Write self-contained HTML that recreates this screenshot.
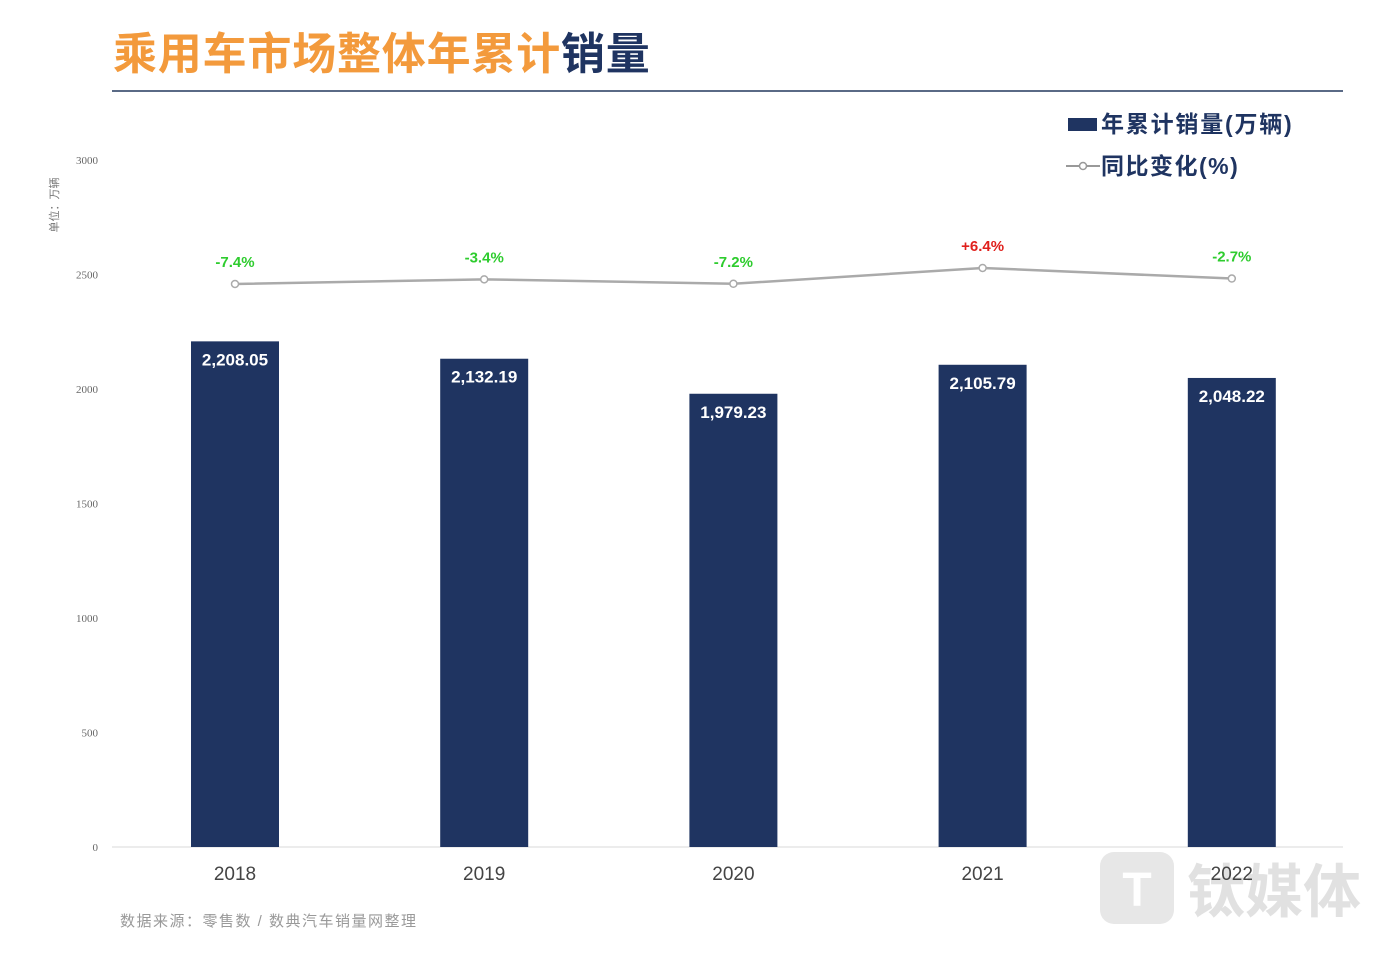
<!DOCTYPE html>
<html><head><meta charset="utf-8"><style>
body{margin:0;background:#fff;width:1399px;height:953px;overflow:hidden;font-family:"Liberation Sans","Noto Sans CJK SC",sans-serif}
svg{display:block}
</style></head><body>
<svg width="1399" height="953" id="c">
<text x="113" y="69" font-size="44" font-weight="bold" letter-spacing="0.8" font-family="Liberation Sans, Noto Sans CJK SC, sans-serif"><tspan fill="#f39a3c">乘用车市场整体年累计</tspan><tspan fill="#1f3461">销量</tspan></text>
<line x1="112" y1="91" x2="1343" y2="91" stroke="#5a6a86" stroke-width="2"/>
<text transform="translate(58,205) rotate(-90)" font-size="11" fill="#777" text-anchor="middle" font-family="Liberation Sans, Noto Sans CJK SC, sans-serif">单位：万辆</text>
<rect x="1068" y="118" width="29" height="13" fill="#1f3461"/>
<text x="1101" y="132" font-size="23" font-weight="bold" letter-spacing="1.8" fill="#1f3461" font-family="Liberation Sans, Noto Sans CJK SC, sans-serif">年累计销量(万辆)</text>
<line x1="1066" y1="166" x2="1100" y2="166" stroke="#999" stroke-width="2"/>
<circle cx="1083" cy="166" r="3.5" fill="#fff" stroke="#999" stroke-width="1.5"/>
<text x="1101" y="174" font-size="23" font-weight="bold" letter-spacing="1.5" fill="#1f3461" font-family="Liberation Sans, Noto Sans CJK SC, sans-serif">同比变化(%)</text>
<line x1="112" y1="847" x2="1343" y2="847" stroke="#e6e6e6" stroke-width="1.5"/>
<text x="120" y="926" font-size="15" letter-spacing="1.5" fill="#999" font-family="Liberation Sans, Noto Sans CJK SC, sans-serif">数据来源：零售数 / 数典汽车销量网整理</text>
<g opacity="0.35">
<rect x="1100" y="852" width="74" height="72" rx="14" fill="#bbb"/>
<text x="1137" y="906" font-size="48" font-weight="bold" fill="#fff" text-anchor="middle" font-family="Liberation Sans, sans-serif">T</text>
<text x="1187" y="912" font-size="58" font-weight="bold" fill="#aaa" font-family="Liberation Sans, Noto Sans CJK SC, sans-serif">钛媒体</text>
</g>
<g id="plot"></g>
</svg>
<script>
const categories=["2018","2019","2020","2021","2022"];
const sales=[2208.05,2132.19,1979.23,2105.79,2048.22];
const salesLabels=["2,208.05","2,132.19","1,979.23","2,105.79","2,048.22"];
const yoy=[-7.4,-3.4,-7.2,6.4,-2.7];
const yoyLabels=["-7.4%","-3.4%","-7.2%","+6.4%","-2.7%"];
const yTicks=[0,500,1000,1500,2000,2500,3000];
const NS="http://www.w3.org/2000/svg";
const g=document.getElementById('plot');
const y=v=>847-v*(687/3000);
const yr=p=>275.4-1.16*p;
const x=i=>235+i*249.2;
function mk(t,a,txt){const e=document.createElementNS(NS,t);for(const k in a)e.setAttribute(k,a[k]);if(txt!=null)e.textContent=txt;g.appendChild(e);return e;}
yTicks.forEach(v=>{
 const e=mk('text',{x:98,y:y(v)+4,'font-size':11,fill:'#666','text-anchor':'end','font-family':'Liberation Serif, serif'},v);
 
 
});
categories.forEach((c,i)=>{
 const b=mk('rect',{x:x(i)-44,y:y(sales[i]),width:88,height:847-y(sales[i]),fill:'#1f3461'});
 
 
 const l=mk('text',{x:x(i),y:y(sales[i])+24,'font-size':17,'font-weight':'bold',fill:'#fff','text-anchor':'middle'},salesLabels[i]);
 
 
 const t=mk('text',{x:x(i),y:880,'font-size':19,fill:'#444','text-anchor':'middle'},c);
 
 
});
const pl=mk('polyline',{points:yoy.map((p,i)=>x(i)+','+yr(p)).join(' '),fill:'none',stroke:'#aaa','stroke-width':2.5});


yoy.forEach((p,i)=>{
 const c=mk('circle',{cx:x(i),cy:yr(p),r:3.5,fill:'#fff',stroke:'#aaa','stroke-width':1.5});
 
 
 const t=mk('text',{x:x(i),y:yr(p)-17,'font-size':15,'font-weight':'bold',fill:p>0?'#e0201c':'#2ecc2e','text-anchor':'middle'},yoyLabels[i]);
 
 
});
</script>
</body></html>
